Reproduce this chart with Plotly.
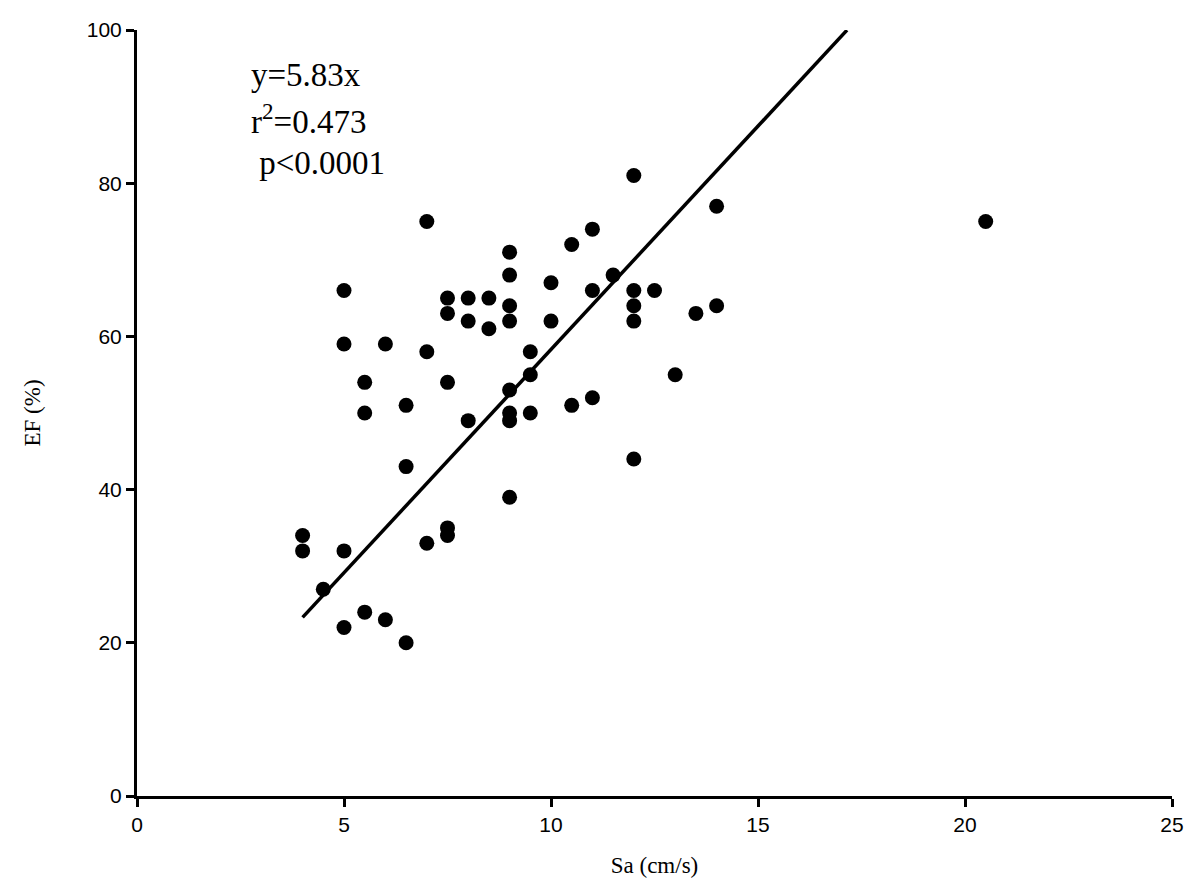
import plotly.graph_objects as go

# Sa (cm/s) vs EF (%)
sa = [4, 4, 4.5, 5, 5, 5, 5, 5.5, 5.5, 5.5, 6, 6, 6.5, 6.5, 6.5,
      7, 7, 7, 7.5, 7.5, 7.5, 7.5, 7.5, 8, 8, 8, 8.5, 8.5,
      9, 9, 9, 9, 9, 9, 9, 9, 9.5, 9.5, 9.5, 10, 10, 10.5, 10.5,
      11, 11, 11, 11.5, 12, 12, 12, 12, 12, 12.5, 13, 13.5, 14, 14, 20.5]
ef = [34, 32, 27, 66, 59, 32, 22, 54, 50, 24, 59, 23, 51, 43, 20,
      75, 58, 33, 65, 63, 54, 35, 34, 65, 62, 49, 65, 61,
      71, 68, 64, 62, 53, 50, 49, 39, 58, 55, 50, 67, 62, 72, 51,
      74, 66, 52, 68, 81, 66, 64, 62, 44, 66, 55, 63, 77, 64, 75]

slope = 5.83
fit_x = [4, 17.15]
fit_y = [slope * v for v in fit_x]

stats_lines = ['y=5.83x', 'r<sup>2</sup>=0.473', ' p<0.0001']

x_ticks = [0, 5, 10, 15, 20, 25]
y_ticks = [0, 20, 40, 60, 80, 100]

# page body has an 8px margin, so margins are trimmed to land the plot area
# at x 137..1172, y 30..796 of the screenshot
W, H = 1200, 893
L, R, T, B = 129, 36, 22, 105
pw, ph = W - L - R, H - T - B

fig = go.Figure()
fig.add_trace(go.Scatter(x=fit_x, y=fit_y, mode='lines',
                         line=dict(color='black', width=3.5),
                         showlegend=False, hoverinfo='skip'))
fig.add_trace(go.Scatter(x=sa, y=ef, mode='markers',
                         marker=dict(color='black', size=15),
                         cliponaxis=False, showlegend=False, name='EF'))

# stats text block (left edge / line centres in page pixels)
for i, txt in enumerate(stats_lines):
    px, py = 249 - 8, 75 + i * 44 - 8
    fig.add_annotation(x=(px - L) / pw, y=1 - (py - T) / ph,
                       xref='paper', yref='paper',
                       text=txt, showarrow=False, xanchor='left', yanchor='middle',
                       font=dict(family='Liberation Serif', size=33, color='black'))

axis_font = dict(family='Liberation Sans', size=21, color='black')
title_font = dict(family='Liberation Serif', size=23, color='black')

fig.update_xaxes(range=[0, 25], tickvals=x_ticks, ticks='outside', ticklen=8,
                 tickwidth=3, tickcolor='black', showline=True, linewidth=3,
                 linecolor='black', showgrid=False, zeroline=False, automargin=False,
                 tickfont=axis_font, title=dict(text='Sa (cm/s)', font=title_font,
                                                standoff=22))
fig.update_yaxes(range=[0, 100], tickvals=y_ticks, ticks='outside', ticklen=8,
                 tickwidth=3, tickcolor='black', showline=True, linewidth=3,
                 linecolor='black', showgrid=False, zeroline=False, automargin=False,
                 tickfont=axis_font, title=dict(text='EF (%)', font=title_font,
                                                standoff=40))

fig.update_layout(width=W, height=H, plot_bgcolor='white', paper_bgcolor='white',
                  margin=dict(l=L, r=R, t=T, b=B))

fig.write_html('out.html')
